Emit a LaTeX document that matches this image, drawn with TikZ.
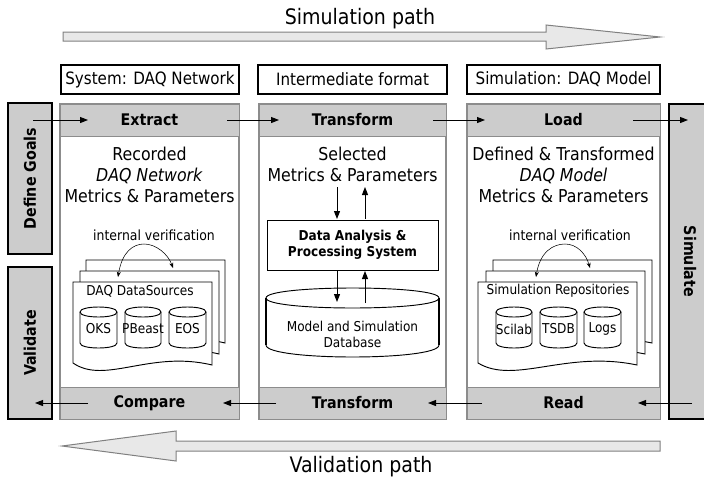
\documentclass[tikz,border=0pt]{standalone}
\usepackage{fontspec}
\setmainfont{DejaVu Sans}[FakeStretch=0.89]
\usetikzlibrary{arrows.meta}
\newcommand\fpath{\fontsize{16}{19}\selectfont}
\newcommand\fhdr{\fontsize{12.75}{15}\selectfont}
\newcommand\fbody{\fontsize{13.3}{15.75}\selectfont}
\newcommand\fband{\fontsize{12}{14}\selectfont\bfseries}
\newcommand\fsmall{\fontsize{10.2}{12}\selectfont}
\newcommand\fverif{\fontsize{10.5}{12}\selectfont}
\newcommand\fdap{\fontsize{10.2}{12}\selectfont\bfseries}
\newcommand\cyl[6]{%
 \draw[cylst] (#1,#3) -- (#1,#4) .. controls (#1,{#4+1.333*#6}) and (#2,{#4+1.333*#6}) .. (#2,#4) -- (#2,#3) .. controls (#2,{#3-1.333*#5}) and (#1,{#3-1.333*#5}) .. (#1,#3) -- cycle;
 \draw[cylst] (#1,#3) .. controls (#1,{#3+1.333*#5}) and (#2,{#3+1.333*#5}) .. (#2,#3);}
\newcommand\docsheet[2]{%
 \draw[sheetst] (#1,282) -- (#2,282) -- (#2,365) .. controls ({#1+0.554*(#2-#1)},350) and ({#1+0.23*(#2-#1)},385) .. (#1,363) -- cycle;}
\begin{document}
\begin{tikzpicture}[x=0.75pt,y=-0.75pt,
  wh/.style 2 args={minimum width=#1*0.75pt,minimum height=#2*0.75pt},
  band/.style={fill=black!20, draw=black!45, line width=0.6pt, inner sep=0, font=\fband},
  colframe/.style={draw=black!45, line width=0.8pt, fill=white},
  hdrbox/.style={draw, line width=1.5pt, fill=white, inner sep=0, font=\fhdr},
  side/.style={draw, line width=2pt, fill=black!20, inner sep=0, font=\fband},
  body/.style={align=center, inner sep=0, font=\fbody},
  small/.style={inner sep=0, font=\fsmall},
  flow/.style={-{Triangle[length=6pt,width=4.5pt]}, line width=0.75pt},
  iv/.style={{Stealth[length=4pt,width=3pt]}-{Stealth[length=4pt,width=3pt]}, line width=0.4pt},
  bigarrow/.style={draw=black!50, fill=black!9, line width=0.75pt},
  cylst/.style={draw, fill=white, line width=0.7pt},
  sheetst/.style={draw, fill=white, line width=0.7pt},
  pathlbl/.style={inner sep=0, font=\fpath}
]
\fill[white] (0,0) rectangle (704,479);
\useasboundingbox (0,0) rectangle (704,479);

% big path arrows
\draw[bigarrow] (63,32) -- (546,32) -- (546,25) -- (660,37) -- (546,49) -- (546,41) -- (63,41) -- cycle;
\node[pathlbl] (simlbl) at (360,19) {Simulation path};
\draw[bigarrow] (660,441) -- (176,441) -- (176,431) -- (62,446) -- (176,461) -- (176,451) -- (660,451) -- cycle;
\node[pathlbl] (vallbl) at (361,467) {Validation path};

% header boxes
\node[hdrbox, wh={178}{29}] (hsys) at (150,79.5) {System: DAQ Network};
\node[hdrbox, wh={189}{29}] (hint) at (352.5,79.5) {Intermediate format};
\node[hdrbox, wh={193}{29}] (hsim) at (563.5,79.5) {Simulation: DAQ Model};

% columns
\draw[colframe] (60,104) rectangle (239,419);
\draw[colframe] (259,104) rectangle (446,419);
\draw[colframe] (467,104) rectangle (660,419);
\node[band, wh={179}{32}] (extract) at (149.5,120) {Extract};
\node[band, wh={179}{32}] (compare) at (149.5,403) {Compare};
\node[band, wh={187}{32}] (transfA) at (352.5,120) {Transform};
\node[band, wh={187}{32}] (transfB) at (352.5,403) {Transform};
\node[band, wh={193}{32}] (load) at (563.5,120) {Load};
\node[band, wh={193}{32}] (read) at (563.5,403) {Read};

% side boxes
\node[side, rotate=90, wh={151}{44}] (goals) at (30,178.5) {Define Goals};
\node[side, rotate=90, wh={152}{44}] (validate) at (30,343) {Validate};
\begin{scope}
\clip (0,0) rectangle (704,479);
\node[side, rotate=-90, wh={315}{42}] (simulate) at (690,261.5) {Simulate};
\end{scope}

% flow arrows
\coordinate (g1) at (33,120); \coordinate (g2) at (88,120);
\coordinate (e1) at (227,120); \coordinate (e2) at (279,120);
\coordinate (t1) at (433,120); \coordinate (t2) at (485,120);
\coordinate (l1) at (633,120); \coordinate (l2) at (688,120);
\coordinate (s1) at (692,403); \coordinate (s2) at (638,403);
\coordinate (r1) at (482,403); \coordinate (r2) at (428,403);
\coordinate (c1) at (276,403); \coordinate (c2) at (223,403);
\coordinate (v1) at (88,403); \coordinate (v2) at (35,403);
\foreach \a/\b in {g1/g2,e1/e2,t1/t2,l1/l2,s1/s2,r1/r2,c1/c2,v1/v2}
  \draw[flow] (\a) -- (\b);

% body texts
\node[body] (rec) at (149.5,175) {Recorded\\\textit{DAQ Network}\\Metrics \& Parameters};
\node[body] (sel) at (352.5,164.5) {Selected\\Metrics \& Parameters};
\node[body] (def) at (563.5,175) {Defined \& Transformed\\\textit{DAQ Model}\\Metrics \& Parameters};

% document stacks
\begin{scope}[shift={(13,-22)}]\docsheet{73}{212}\end{scope}
\begin{scope}[shift={(7,-11)}]\docsheet{73}{212}\end{scope}
\docsheet{73}{212}
\begin{scope}[shift={(15,-22)}]\docsheet{478}{637}\end{scope}
\begin{scope}[shift={(8,-11)}]\docsheet{478}{637}\end{scope}
\docsheet{478}{637}
\node[small] (dsrc) at (140,291) {DAQ DataSources};
\node[small] (srep) at (558,291) {Simulation Repositories};

% internal verification
\node[inner sep=0, font=\fverif] (ivA) at (154,235) {internal verification};
\node[inner sep=0, font=\fverif] (ivB) at (570,235) {internal verification};
\coordinate (ivA1) at (118,277); \coordinate (ivA2) at (173,268);
\coordinate (ivB1) at (536,277); \coordinate (ivB2) at (590,268);
\draw[iv] (ivA1) .. controls (122,252) and (133,244) .. (144,244) .. controls (156,244) and (168,254) .. (ivA2);
\draw[iv] (ivB1) .. controls (540,252) and (553,244) .. (565,244) .. controls (577,244) and (586,254) .. (ivB2);

% cylinders
\cyl{80}{117}{312}{343}{5}{5}
\cyl{125}{161}{312}{343}{5}{5}
\cyl{169}{206}{312}{343}{5}{5}
\node[small] (oks) at (98.5,329) {OKS};
\node[small] (pbeast) at (143,329) {PBeast};
\node[small] (eos) at (187.5,329) {EOS};
\cyl{496}{532}{312}{343}{5}{5}
\cyl{540}{577}{312}{343}{5}{5}
\cyl{584}{621}{312}{343}{5}{5}
\node[small] (scilab) at (514,329) {Scilab};
\node[small] (tsdb) at (558.5,329) {TSDB};
\node[small] (logs) at (602.5,329) {Logs};

% middle column
\node[draw, fill=white, line width=0.75pt, wh={171}{50}, align=center, font=\fdap, inner sep=0] (dap) at (352.5,245) {Data Analysis \&\\Processing System};
\cyl{266}{439}{298}{345}{10}{12}
\draw[line width=1.6pt] (266,298) -- (266,345) (439,298) -- (439,345);
\node[small, align=center] (db) at (352.5,334) {Model and Simulation\\Database};
\coordinate (m1) at (337,187); \coordinate (m2) at (337,219);
\coordinate (m3) at (365,219); \coordinate (m4) at (365,187);
\coordinate (m5) at (337,271); \coordinate (m6) at (337,302);
\coordinate (m7) at (365,303); \coordinate (m8) at (365,271);
\foreach \a/\b in {m1/m2,m3/m4,m5/m6,m7/m8}
  \draw[flow] (\a) -- (\b);
\end{tikzpicture}
\end{document}
